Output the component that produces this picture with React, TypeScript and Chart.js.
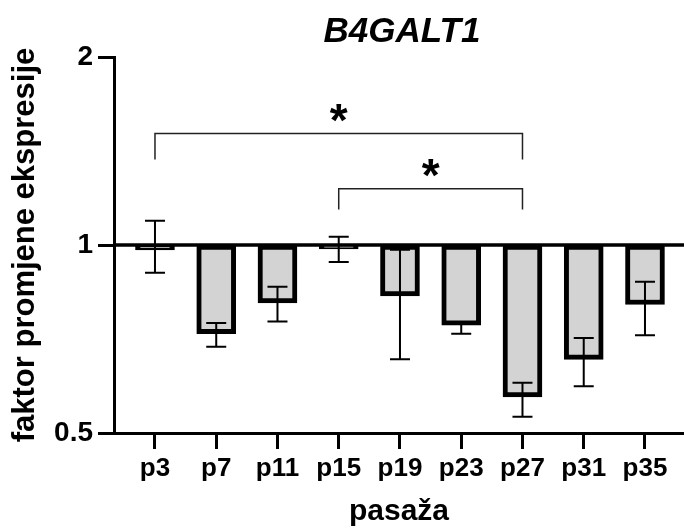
import { useEffect, useRef } from 'react';
import { Chart, registerables } from 'chart.js';

Chart.register(...registerables);

const FONT = '"Liberation Sans", Arial, Helvetica, sans-serif';

const title = 'B4GALT1';
const yTitle = 'faktor promjene ekspresije';
const xTitle = 'pasaža';
const categories = ['p3', 'p7', 'p11', 'p15', 'p19', 'p23', 'p27', 'p31', 'p35'];
const foldChange = [0.982, 0.721, 0.808, 0.986, 0.829, 0.744, 0.571, 0.656, 0.803];
const errHigh = [1.094, 0.75, 0.857, 1.031, 0.983, 0.753, 0.602, 0.71, 0.873];
const errLow = [0.903, 0.687, 0.754, 0.939, 0.656, 0.721, 0.531, 0.594, 0.717];
const yTicks = [0.5, 1, 2];
const bracketFrom = [0, 3];
const bracketTo = [6, 6];
const bracketTop = [1.508, 1.23];
const bracketLeg = [1.37, 1.14];
const bracketLabel = ['*', '*'];

const annotations = {
  id: 'annotations',
  afterDatasetsDraw(chart: any) {
    const { ctx, chartArea, scales } = chart;
    const x = scales.x;
    const y = scales.y;
    ctx.save();
    // error bars
    ctx.strokeStyle = '#000';
    ctx.lineWidth = 2;
    for (let i = 0; i < categories.length; i++) {
      const px = x.getPixelForValue(i);
      const yHi = y.getPixelForValue(errHigh[i]);
      const yLo = y.getPixelForValue(errLow[i]);
      ctx.beginPath();
      ctx.moveTo(px, yHi);
      ctx.lineTo(px, yLo);
      ctx.moveTo(px - 10, yHi);
      ctx.lineTo(px + 10, yHi);
      ctx.moveTo(px - 10, yLo);
      ctx.lineTo(px + 10, yLo);
      ctx.stroke();
    }
    // baseline at 1
    const y1 = y.getPixelForValue(1);
    ctx.lineWidth = 3.5;
    ctx.beginPath();
    ctx.moveTo(chartArea.left, y1);
    ctx.lineTo(chartArea.right, y1);
    ctx.stroke();
    // significance brackets
    ctx.strokeStyle = '#222';
    ctx.lineWidth = 1.5;
    ctx.fillStyle = '#000';
    ctx.font = `bold 46px ${FONT}`;
    ctx.textAlign = 'center';
    ctx.textBaseline = 'alphabetic';
    for (let k = 0; k < bracketFrom.length; k++) {
      const xa = x.getPixelForValue(bracketFrom[k]);
      const xb = x.getPixelForValue(bracketTo[k]);
      const yt = y.getPixelForValue(bracketTop[k]);
      const yl = y.getPixelForValue(bracketLeg[k]);
      ctx.beginPath();
      ctx.moveTo(xa, yl);
      ctx.lineTo(xa, yt);
      ctx.lineTo(xb, yt);
      ctx.lineTo(xb, yl);
      ctx.stroke();
      ctx.fillText(bracketLabel[k], (xa + xb) / 2, yt + 2);
    }
    // title
    ctx.font = `italic bold 35px ${FONT}`;
    ctx.fillText(title, 402, 42);
    ctx.restore();
  },
};

export default function App() {
  const ref = useRef<HTMLCanvasElement>(null);
  useEffect(() => {
    if (!ref.current) return;
    const chart = new Chart(ref.current, {
      type: 'bar',
      data: {
        datasets: [
          {
            data: foldChange.map((v, i) => ({ x: i, y: [1, v] })) as any,
            backgroundColor: '#d3d3d3',
            borderColor: '#000',
            borderWidth: 5,
            borderSkipped: false,
            barThickness: 39,
          },
        ],
      },
      options: {
        responsive: false,
        animation: false,
        layout: { padding: { top: 57, right: 0, left: 0, bottom: 0 } },
        plugins: {
          legend: { display: false },
          tooltip: { enabled: false },
          title: { display: false },
        },
        scales: {
          x: {
            type: 'linear',
            offset: false,
            min: -0.669,
            max: 8.637,
            afterBuildTicks: (s: any) => {
              s.ticks = categories.map((_, i) => ({ value: i }));
            },
            afterFit: (s: any) => {
              s.height = 98;
            },
            ticks: {
              callback: (v: any) => categories[v] ?? '',
              font: { family: FONT, size: 26, weight: 'bold' },
              color: '#000',
              padding: 4,
              autoSkip: false,
              maxRotation: 0,
            },
            grid: {
              offset: false,
              drawOnChartArea: false,
              tickLength: 16,
              tickWidth: 3,
              tickColor: '#000',
              color: '#000',
            },
            border: { display: true, width: 3, color: '#000' },
            title: {
              display: true,
              text: xTitle,
              font: { family: FONT, size: 30, weight: 'bold' },
              color: '#000',
              padding: { top: 0, bottom: 1 },
            },
          },
          y: {
            type: 'logarithmic',
            min: 0.5,
            max: 2,
            afterBuildTicks: (s: any) => {
              s.ticks = yTicks.map((v) => ({ value: v }));
            },
            afterFit: (s: any) => {
              s.width = 114;
            },
            ticks: {
              callback: (v: any) => String(v),
              font: { family: FONT, size: 28, weight: 'bold' },
              color: '#000',
              padding: 5,
            },
            grid: {
              drawOnChartArea: false,
              tickLength: 16,
              tickWidth: 3,
              tickColor: '#000',
              color: '#000',
            },
            border: { display: true, width: 3, color: '#000' },
            title: {
              display: true,
              text: yTitle,
              font: { family: FONT, size: 31, weight: 'bold' },
              color: '#000',
              padding: { top: 7, bottom: 0 },
            },
          },
        },
      },
      plugins: [annotations],
    });
    return () => chart.destroy();
  }, []);
  return (
    <div style={{ position: 'absolute', left: 0, top: 0, width: 684, height: 531, background: '#fff' }}>
      <canvas ref={ref} width={684} height={531} />
    </div>
  );
}
